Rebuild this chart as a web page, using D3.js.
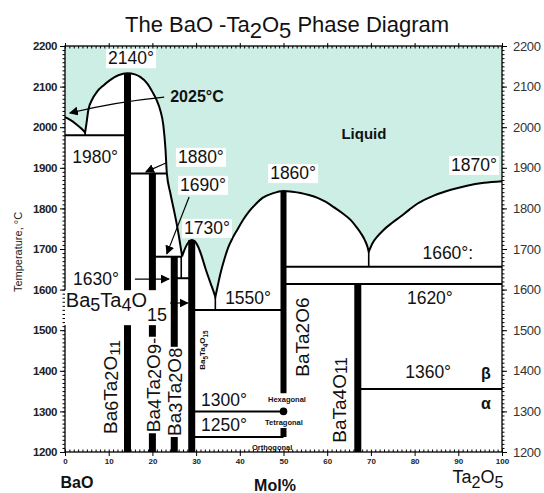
<!DOCTYPE html>
<html><head><meta charset="utf-8">
<script src="https://cdn.jsdelivr.net/npm/d3@7"></script>
<style>body{margin:0;background:#fff}svg{display:block}text{font-family:"Liberation Sans",Arial,Helvetica,sans-serif}</style>
</head><body><svg id="c" width="544" height="493"></svg>
<script>
// ---------- data ----------
const tempTicks = [1200,1300,1400,1500,1600,1700,1800,1900,2000,2100,2200];
const molTicks = [0,10,20,30,40,50,60,70,80,90,100];
// liquidus (mol% Ta2O5, °C), split at eutectic cusps
const liquidusSegments = [
  [[0,2025],[1.2,2018],[2.5,2008],[3.8,1996],[4.6,1987]],
  [[4.6,1987],[4.9,2008],[5.3,2040],[6.2,2068],[7.3,2087],[8.8,2103],[10.3,2116],[12.2,2128],[14.3,2133],[16,2130],[17.2,2124],[18.8,2108],[20,2087],[21,2066],[21.8,2042],[22.5,2005],[23.0,1945],[23.3,1887],[24.1,1838],[25.0,1792],[25.7,1754],[26.3,1716],[26.8,1682]],
  [[26.8,1682],[27.5,1702],[28.2,1716],[29,1722],[29.8,1718],[30.5,1705],[31.2,1685],[32.2,1650],[33.3,1616],[34,1595],[34.4,1582]],
  [[34.4,1582],[35.0,1612],[35.6,1641],[36.5,1676],[37.4,1705],[38.4,1728],[39.4,1747],[40.7,1771],[42,1791],[43.6,1810],[45.2,1826],[47.5,1837],[50,1843],[52,1841],[53.9,1838],[55.8,1833],[57.8,1826],[59.7,1816],[61.5,1803],[63.5,1788],[65.4,1771],[66.7,1754],[67.7,1739],[68.6,1722],[69.2,1706],[69.5,1693]],
  [[69.5,1693],[70.3,1713],[71.5,1731],[72.9,1747],[74.8,1764],[76.8,1780],[78.8,1797],[80.7,1812],[84.5,1832],[88.3,1846],[92,1856],[95.9,1863],[100,1867]]
];
// compound lines: mol%, top °C, bottom °C
const compounds = [
  [14.3,2133,1200],[20,1886,1200],[25,1681,1200],[29,1722,1200],[50,1843,1345],[50,1259,1237],[67,1614,1200]
];
// isotherms: from mol, to mol, °C
const isotherms = [
  [0,14.3,1980],[14.3,23.3,1886],[20,26.8,1681],[25,29,1628],[29,50,1550],
  [50,100,1656],[50,100,1614],[67,100,1355],[29,50,1300],[29,50,1237]
];
// thin vertical boundaries: mol, top, bottom
const boundaries = [[4.6,1987,1980],[26.6,1681,1628],[34.4,1582,1550],[69.5,1693,1656]];
// labels: parts [text, shift(em), scale], mol, °C, size, bold, box
const labels = [
  [[["2140°",0,1]],15.1,2170,17.5,false,true],
  [[["2025°C",0,1]],30.2,2077,16,true,false],
  [[["1980°",0,1]],6.9,1927,17.5,false,false],
  [[["1880°",0,1]],31.1,1927,17.5,false,true],
  [[["1690°",0,1]],31.6,1858,17.5,false,true],
  [[["1730°",0,1]],32.5,1752,17.5,false,true],
  [[["1630°",0,1]],7.1,1626,17.5,false,false],
  [[["1550°",0,1]],41.9,1579,17.5,false,false],
  [[["1860°",0,1]],52.2,1887,17.5,false,true],
  [[["1870°",0,1]],93.6,1907,17.5,false,true],
  [[["Liquid",0,1]],68.4,1986,15,true,false],
  [[["1660°:",0,1]],87.6,1690,17.5,false,false],
  [[["1620°",0,1]],83.5,1579,17.5,false,false],
  [[["1360°",0,1]],83.1,1397,17.5,false,false],
  [[["β",0,1]],96.3,1395,16,true,false],
  [[["α",0,1]],96.3,1321,16,true,false],
  [[["1300°",0,1]],36.4,1328,17.5,false,false],
  [[["1250°",0,1]],36.4,1267,17.5,false,false],
  [[["Hexagonal",0,1]],50.8,1330,7.5,true,false],
  [[["Tetragonal",0,1]],50.1,1274,7.5,true,false],
  [[["Orthogonal",0,1]],47.4,1212,7.5,true,false]
];
const bigLabel = [["Ba",0,1],["5",0.25,0.9],["Ta",0,1],["4",0.25,0.9],["O",0,1],["15",0.75,0.9]];
// rotated compound labels: parts, mol, °C, size, box
const vlabels = [
  [[["Ba",0,1],["6",0.1,0.95],["Ta",0,1],["2",0.1,0.95],["O",0,1],["11",0.2,0.8]],10.3,1360,19,false],
  [[["Ba",0,1],["4",0.1,0.95],["Ta",0,1],["2",0.1,0.95],["O",0,1],["9",0.1,0.95],["-",0,1]],20.1,1365,19,true],
  [[["Ba",0,1],["3",0.1,0.95],["Ta",0,1],["2",0.1,0.95],["O",0,1],["8",0.1,0.95]],24.9,1348,19,true],
  [[["Ba",0,1],["5",0.3,0.8],["Ta",0,1],["4",0.3,0.8],["O",0,1],["15",0.3,0.8]],31.4,1451,8,false],
  [[["BaTa",0,1],["2",0,1],["O",0,1],["6",0,1]],54.2,1483,19,false],
  [[["BaTa",0,1],["4",0,1],["O",0,1],["11",0.1,0.85]],62.7,1328,19,false]
];
// arrows: [from mol, from °C], [to mol, to °C], optional control
const arrows = [
  [[22.7,2074],[1.1,2035],[11.4,2062]],
  [[23.1,1912],[18.5,1890]],
  [[28.4,1828],[23.3,1688]],
  [[16,1626],[23.8,1626]],
  [[22.4,1567],[28.1,1567]]
];

// ---------- drawing ----------
const svg = d3.select("#c");
const x = d3.scaleLinear().domain([0,100]).range([65,502]);
const y = d3.scaleLinear().domain([1200,2200]).range([452,46]);

svg.append("defs").append("marker").attr("id","ah").attr("viewBox","0 0 10 10")
  .attr("refX",9).attr("refY",5).attr("markerWidth",9).attr("markerHeight",9)
  .attr("markerUnits","userSpaceOnUse").attr("orient","auto")
  .append("path").attr("d","M0,0L10,5L0,10Z").attr("fill","#000");

const line = d3.line().x(d=>x(d[0])).y(d=>y(d[1])).curve(d3.curveMonotoneX);
const liqPath = liquidusSegments.map((s,i)=>{const p=line(s);return i?p.replace(/^M/,"L"):p;}).join("");

// liquid fill
svg.append("path").attr("d", liqPath + `L${x(100)},${y(2200)}L${x(0)},${y(2200)}Z`)
  .attr("fill","#cdeee4");

// isotherms
svg.append("g").selectAll("line").data(isotherms).join("line")
  .attr("x1",d=>x(d[0])).attr("x2",d=>x(d[1])).attr("y1",d=>y(d[2])).attr("y2",d=>y(d[2]))
  .attr("stroke","#000").attr("stroke-width",2);
svg.append("g").selectAll("line").data(boundaries).join("line")
  .attr("x1",d=>x(d[0])).attr("x2",d=>x(d[0])).attr("y1",d=>y(d[1])).attr("y2",d=>y(d[2]))
  .attr("stroke","#000").attr("stroke-width",1.6);
// compounds
svg.append("g").selectAll("line").data(compounds).join("line")
  .attr("x1",d=>x(d[0])).attr("x2",d=>x(d[0])).attr("y1",d=>y(d[1])).attr("y2",d=>y(d[2]))
  .attr("stroke","#000").attr("stroke-width",d=>d[0]===50?6:7);
svg.append("circle").attr("cx",x(50)).attr("cy",y(1300)).attr("r",3.8).attr("fill","#000");

// liquidus
svg.append("path").attr("d",liqPath).attr("fill","none").attr("stroke","#000").attr("stroke-width",2);

// frame
svg.append("rect").attr("x",x(0)).attr("y",y(2200)).attr("width",x(100)-x(0)).attr("height",y(1200)-y(2200))
  .attr("fill","none").attr("stroke","#000").attr("stroke-width",1.3);

// rich text helper
function rich(sel, parts, size){
  const t = sel.append("text").attr("font-size",size);
  let prev = 0;
  parts.forEach(p=>{
    t.append("tspan").attr("dy",((p[1]-prev)*size).toFixed(2)).attr("font-size",size*p[2]).text(p[0]);
    prev = p[1];
  });
  return t;
}
function boxIt(g, t, pad){
  const b = t.node().getBBox();
  g.insert("rect","text").attr("x",b.x-pad).attr("y",b.y+1).attr("width",b.width+2*pad).attr("height",b.height-1).attr("fill","#fff");
}

// arrows
arrows.forEach(a=>{
  const p = d3.path();
  p.moveTo(x(a[0][0]),y(a[0][1]));
  if(a[2]) p.quadraticCurveTo(x(a[2][0]),y(a[2][1]),x(a[1][0]),y(a[1][1]));
  else p.lineTo(x(a[1][0]),y(a[1][1]));
  svg.append("path").attr("d",p.toString()).attr("fill","none").attr("stroke","#000")
    .attr("stroke-width",1.2).attr("marker-end","url(#ah)");
});

// labels
labels.forEach(l=>{
  const g = svg.append("g").attr("transform",`translate(${x(l[1])},${y(l[2])})`);
  const t = rich(g,l[0],l[3]).attr("text-anchor","middle").attr("dominant-baseline","central")
    .attr("font-weight",l[4]?"bold":"normal").attr("fill","#111");
  if(l[5]) boxIt(g,t,2);
});
{
  const g = svg.append("g").attr("transform",`translate(${x(0.2)},${y(1574)})`);
  const t = rich(g,bigLabel,20).attr("dominant-baseline","central").attr("fill","#111");
  boxIt(g,t,3);
}
vlabels.forEach(l=>{
  const g = svg.append("g").attr("transform",`translate(${x(l[1])},${y(l[2])}) rotate(-90)`);
  const t = rich(g,l[0],l[3]).attr("text-anchor","middle").attr("dominant-baseline","central").attr("fill","#111")
    .attr("font-weight",l[3]<10?"bold":"normal");
  if(l[4]) boxIt(g,t,1);
});

// axes
function clean(g){g.select(".domain").remove();}
const minorT = d3.range(1200,2201,10), minorM = d3.range(0,101,1);
svg.append("g").attr("transform",`translate(${x(0)},0)`).call(d3.axisLeft(y).tickValues(minorT).tickSize(2.5).tickFormat("")).call(clean);
svg.append("g").attr("transform",`translate(${x(0)},0)`)
  .call(d3.axisLeft(y).tickValues(tempTicks).tickSize(5).tickPadding(3).tickFormat(d3.format("d"))).call(clean)
  .call(g=>g.selectAll("text").attr("font-size",11.5).attr("font-weight","bold").attr("letter-spacing","-0.4").attr("fill","#222"));
svg.append("g").attr("transform",`translate(${x(100)},0)`).call(d3.axisRight(y).tickValues(minorT).tickSize(2.5).tickFormat("")).call(clean);
svg.append("g").attr("transform",`translate(${x(100)},0)`)
  .call(d3.axisRight(y).tickValues(tempTicks).tickSize(5).tickPadding(6).tickFormat(d3.format("d"))).call(clean)
  .call(g=>g.selectAll("text").attr("font-size",13).attr("fill","#333").attr("letter-spacing","-0.3"));
svg.append("g").attr("transform",`translate(0,${y(1200)})`).call(d3.axisTop(x).tickValues(minorM).tickSize(2.5).tickFormat("")).call(clean);
svg.append("g").attr("transform",`translate(0,${y(1200)})`)
  .call(d3.axisBottom(x).tickValues(molTicks).tickSize(4).tickPadding(2).tickFormat(d3.format("d"))).call(clean)
  .call(g=>g.selectAll("text").attr("font-size",8).attr("font-weight","bold").attr("fill","#222"));
svg.append("g").attr("transform",`translate(0,${y(2200)})`).call(d3.axisBottom(x).tickValues(minorM).tickSize(2.5).tickFormat("")).call(clean);
svg.append("g").attr("transform",`translate(0,${y(2200)})`).call(d3.axisTop(x).tickValues(molTicks).tickSize(3).tickFormat("")).call(clean);
svg.selectAll(".tick line").attr("stroke","#000");

// titles
rich(svg.append("g").attr("transform","translate(287,24)"),
  [["The BaO -Ta",0,1],["2",0.28,1],["O",0,1],["5",0.28,1],[" Phase Diagram",0,1]],22)
  .attr("text-anchor","middle").attr("dominant-baseline","central").attr("fill","#111");
svg.append("text").attr("transform","translate(18,252) rotate(-90)").attr("text-anchor","middle")
  .attr("dominant-baseline","central").attr("font-size",11).attr("fill","#222").text("Temperature, °C");
svg.append("text").attr("x",77).attr("y",482).attr("text-anchor","middle").attr("dominant-baseline","central")
  .attr("font-size",16).attr("font-weight","bold").attr("fill","#111").text("BaO");
svg.append("text").attr("x",275).attr("y",485).attr("text-anchor","middle").attr("dominant-baseline","central")
  .attr("font-size",16).attr("font-weight","bold").attr("fill","#111").text("Mol%");
rich(svg.append("g").attr("transform","translate(478,477)"),[["Ta",0,1],["2",0.3,0.9],["O",0,1],["5",0.3,0.9]],18)
  .attr("text-anchor","middle").attr("dominant-baseline","central").attr("fill","#111");
</script></body></html>
